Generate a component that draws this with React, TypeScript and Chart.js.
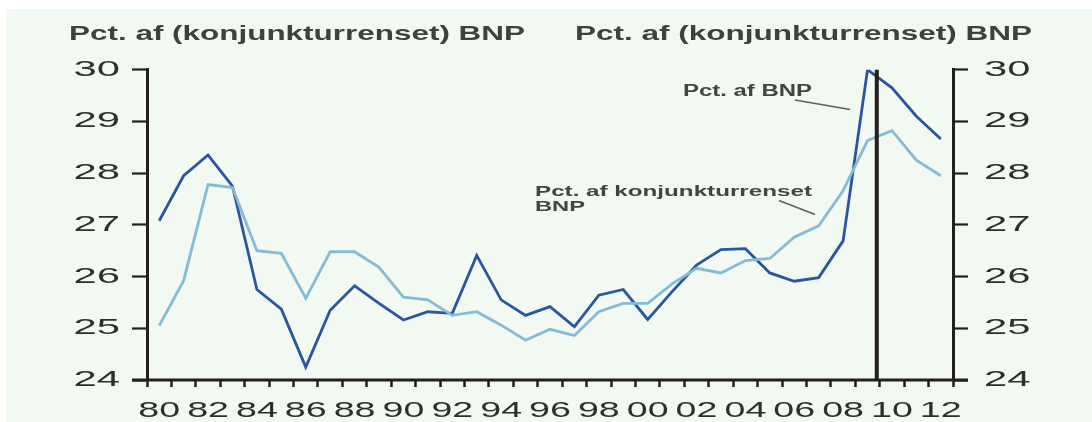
import React, { useEffect, useRef } from "react";
import { Chart, registerables } from "chart.js";

Chart.register(...registerables);

// ---------- data ----------
const years = [
  "80", "81", "82", "83", "84", "85", "86", "87", "88", "89",
  "90", "91", "92", "93", "94", "95", "96", "97", "98", "99",
  "00", "01", "02", "03", "04", "05", "06", "07", "08", "09",
  "10", "11", "12",
];
const xTickLabels = ["80", "82", "84", "86", "88", "90", "92", "94", "96", "98", "00", "02", "04", "06", "08", "10", "12"];
const yTickValues = [24, 25, 26, 27, 28, 29, 30];

const pctBNP = [
  27.08, 27.95, 28.35, 27.75, 25.75, 25.37, 24.25, 25.35, 25.82, 25.48,
  25.16, 25.32, 25.29, 26.41, 25.55, 25.25, 25.42, 25.03, 25.64, 25.75,
  25.17, 25.71, 26.22, 26.52, 26.54, 26.07, 25.91, 25.98, 26.69, 30.0,
  29.65, 29.1, 28.66,
];
const pctKonjBNP = [
  25.05, 25.92, 27.78, 27.72, 26.5, 26.45, 25.58, 26.48, 26.48, 26.18,
  25.6, 25.55, 25.25, 25.32, 25.06, 24.77, 24.98, 24.86, 25.32, 25.48,
  25.48, 25.86, 26.16, 26.07, 26.31, 26.35, 26.76, 26.98, 27.66, 28.63,
  28.82, 28.25, 27.95,
];

const leftTitle = "Pct. af (konjunkturrenset) BNP";
const rightTitle = "Pct. af (konjunkturrenset) BNP";
const labelBNP = "Pct. af BNP";
const labelKonj = ["Pct. af konjunkturrenset", "BNP"];
const separatorIndex = 29.38; // just after 2009

// ---------- styles ----------
const AXIS = "#231f20";
const DARK = "#2a559f";
const LIGHT = "#84bcd6";
const FONT = '"Liberation Sans", Arial, sans-serif';
const W = 1086;
const H = 413;

function drawStretched(
  ctx: CanvasRenderingContext2D,
  text: string,
  x: number,
  y: number,
  font: string,
  color: string,
  sx: number,
  align: "left" | "center" | "right"
) {
  ctx.save();
  ctx.font = font;
  ctx.fillStyle = color;
  ctx.textBaseline = "alphabetic";
  ctx.textAlign = "left";
  const w = ctx.measureText(text).width * sx;
  const left = align === "left" ? x : align === "center" ? x - w / 2 : x - w;
  ctx.translate(left, y);
  ctx.scale(sx, 1);
  ctx.fillText(text, 0, 0);
  ctx.restore();
}

function drawFit(
  ctx: CanvasRenderingContext2D,
  text: string,
  x: number,
  y: number,
  font: string,
  color: string,
  width: number
) {
  ctx.save();
  ctx.font = font;
  const m = ctx.measureText(text).width;
  ctx.restore();
  drawStretched(ctx, text, x, y, font, color, width / m, "left");
}

const decorPlugin = {
  id: "decor",
  afterDatasetsDraw(chart: any) {
    const ctx: CanvasRenderingContext2D = chart.ctx;
    const xs = chart.scales.x;
    const ys = chart.scales.y;
    const ca = chart.chartArea;

    // separator line (forecast)
    const p0 = xs.getPixelForValue(Math.floor(separatorIndex));
    const p1 = xs.getPixelForValue(Math.floor(separatorIndex) + 1);
    const sxp = p0 + (p1 - p0) * (separatorIndex - Math.floor(separatorIndex));
    ctx.save();
    ctx.strokeStyle = AXIS;
    ctx.lineWidth = 4;
    ctx.beginPath();
    ctx.moveTo(sxp, ys.getPixelForValue(30));
    ctx.lineTo(sxp, ys.getPixelForValue(24));
    ctx.stroke();

    // extended x axis line
    const yb = ys.getPixelForValue(24);
    ctx.lineWidth = 3;
    ctx.beginPath();
    ctx.moveTo(ca.left - 15, yb);
    ctx.lineTo(ca.right + 15, yb);
    ctx.stroke();

    // annotation leader lines
    ctx.strokeStyle = "#5e5e5e";
    ctx.lineWidth = 1.6;
    ctx.beginPath();
    ctx.moveTo(789, 91);
    ctx.lineTo(844, 100.5);
    ctx.moveTo(773, 191.5);
    ctx.lineTo(809, 205.5);
    ctx.stroke();
    ctx.restore();
  },
  afterDraw(chart: any) {
    const ctx: CanvasRenderingContext2D = chart.ctx;
    const xs = chart.scales.x;
    const ys = chart.scales.y;
    const ca = chart.chartArea;
    const tickFont = `22px ${FONT}`;
    const tickColor = "#2e2e2e";

    // y tick labels, both sides
    yTickValues.forEach((v) => {
      const py = ys.getPixelForValue(v) + 6;
      drawStretched(ctx, String(v), ca.left - 27, py, tickFont, tickColor, 1.9, "right");
      drawStretched(ctx, String(v), ca.right + 31, py, tickFont, tickColor, 1.9, "left");
    });

    // x tick labels
    years.forEach((yr, i) => {
      if (!xTickLabels.includes(yr)) return;
      const px = xs.getPixelForValue(i);
      drawStretched(ctx, yr, px, ca.bottom + 36.5, tickFont, tickColor, 1.71, "center");
    });

    // titles
    const titleFont = `bold 21px ${FONT}`;
    drawFit(ctx, leftTitle, 63, 31, titleFont, "#404040", 456);
    drawFit(ctx, rightTitle, 569, 31, titleFont, "#404040", 457);

    // annotations
    drawFit(ctx, labelBNP, 677, 86.7, `bold 16px ${FONT}`, "#444444", 129);
    drawFit(ctx, labelKonj[0], 529, 187, `bold 15px ${FONT}`, "#444444", 277);
    drawFit(ctx, labelKonj[1], 529, 202, `bold 15px ${FONT}`, "#444444", 50);
  },
};

export default function App() {
  const ref = useRef<HTMLCanvasElement>(null);

  useEffect(() => {
    if (!ref.current) return;
    const yAxisCommon = {
      type: "linear" as const,
      min: 24,
      max: 30,
      ticks: { display: false, stepSize: 1 },
      grid: {
        drawOnChartArea: false,
        drawTicks: true,
        tickLength: 15,
        tickWidth: 2.2,
        tickColor: AXIS,
      },
      border: { display: true, width: 3, color: AXIS },
      afterFit: (s: any) => {
        s.width = 0;
      },
    };
    const chart = new Chart(ref.current, {
      type: "line",
      data: {
        labels: years,
        datasets: [
          {
            label: "Pct. af konjunkturrenset BNP",
            data: pctKonjBNP,
            borderColor: LIGHT,
            borderWidth: 2.8,
            pointRadius: 0,
            tension: 0,
            fill: false,
            yAxisID: "y",
          },
          {
            label: "Pct. af BNP",
            data: pctBNP,
            borderColor: DARK,
            borderWidth: 2.8,
            pointRadius: 0,
            tension: 0,
            fill: false,
            yAxisID: "y",
          },
        ],
      },
      options: {
        responsive: false,
        animation: false,
        layout: { padding: { left: 141, right: 139, top: 60.7, bottom: 42 } },
        plugins: {
          legend: { display: false },
          tooltip: { enabled: false },
          title: { display: false },
        },
        scales: {
          x: {
            type: "category",
            offset: true,
            ticks: { display: false, autoSkip: false },
            grid: {
              offset: true,
              drawOnChartArea: false,
              drawTicks: true,
              tickLength: 7,
              tickWidth: 2.5,
              tickColor: AXIS,
            },
            border: { display: false },
            afterFit: (s: any) => {
              s.height = 0;
            },
          },
          y: { ...yAxisCommon, position: "left" },
          y2: { ...yAxisCommon, position: "right" },
        },
      },
      plugins: [decorPlugin],
    });
    return () => chart.destroy();
  }, []);

  return (
    <div
      style={{
        position: "fixed",
        left: 6,
        top: 9,
        width: W,
        height: H,
        background: "#f2f8f2",
      }}
    >
      <canvas ref={ref} width={W} height={H} style={{ display: "block" }} />
    </div>
  );
}
